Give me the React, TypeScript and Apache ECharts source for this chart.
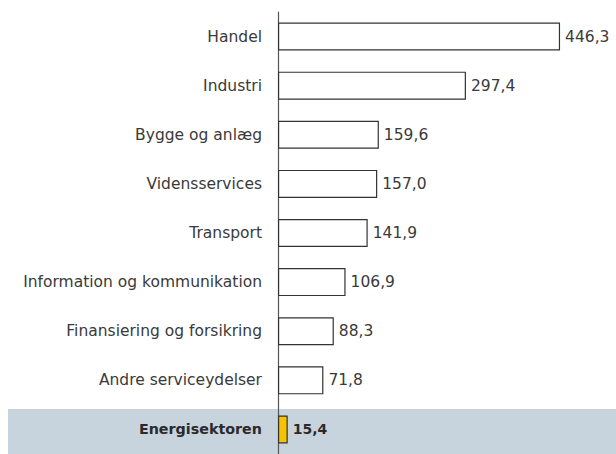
import React, { useEffect, useRef } from "react";
import * as echarts from "echarts";

const categories = [
  "Handel",
  "Industri",
  "Bygge og anlæg",
  "Vidensservices",
  "Transport",
  "Information og kommunikation",
  "Finansiering og forsikring",
  "Andre serviceydelser",
  "Energisektoren",
];
const values = [446.3, 297.4, 159.6, 157.0, 141.9, 106.9, 88.3, 71.8, 15.4];
const highlight = "Energisektoren";

const W = 616;
const H = 454;
const gridLeft = 278;
const gridTop = 12;
const step = 49.5;
const gridHeight = step * categories.length;
const gridWidth = 316;
const xMax = 500;
const FONT = "DejaVu Sans";

export default function App() {
  const ref = useRef<HTMLDivElement>(null);
  useEffect(() => {
    if (!ref.current) return;
    const chart = echarts.init(ref.current, undefined, { renderer: "svg" });
    const hiIdx = categories.indexOf(highlight);
    chart.setOption({
      animation: false,
      backgroundColor: "#ffffff",
      textStyle: { fontFamily: FONT },
      grid: { left: gridLeft, top: gridTop, width: gridWidth, height: gridHeight },
      graphic: [
        {
          type: "rect",
          z: -10,
          silent: true,
          shape: { x: 8, y: gridTop + step * hiIdx + 1, width: W - 8, height: step },
          style: { fill: "#c8d4dd" },
        },
      ],
      xAxis: {
        type: "value",
        min: 0,
        max: xMax,
        show: false,
      },
      yAxis: {
        type: "category",
        inverse: true,
        data: categories,
        axisLine: { show: true, lineStyle: { color: "#555555", width: 1.2 } },
        axisTick: { show: false },
        axisLabel: {
          margin: 16,
          fontSize: 15.5,
          color: "#3a3a3a",
          fontFamily: FONT,
          formatter: (v: string) => (v === highlight ? "{b|" + v + "}" : v),
          rich: { b: { fontWeight: "bold", fontSize: 14.3, color: "#2a2a2a", fontFamily: FONT } },
        },
      },
      series: [
        {
          type: "bar",
          barWidth: 28,
          data: values.map((v, i) => ({
            value: v,
            itemStyle:
              categories[i] === highlight
                ? { color: "#f8c300", borderColor: "#333333", borderWidth: 1.2 }
                : { color: "#ffffff", borderColor: "#333333", borderWidth: 1.2 },
            label:
              categories[i] === highlight
                ? { fontWeight: "bold", color: "#2a2a2a", fontSize: 14 }
                : undefined,
          })),
          label: {
            show: true,
            position: "right",
            distance: 5,
            fontSize: 15.5,
            color: "#3a3a3a",
            fontFamily: FONT,
            formatter: (p: any) => Number(p.value).toFixed(1).replace(".", ","),
          },
        },
      ],
    });
    return () => chart.dispose();
  }, []);
  return (
    <div
      ref={ref}
      style={{ position: "absolute", left: 0, top: 0, width: W, height: H }}
    />
  );
}
